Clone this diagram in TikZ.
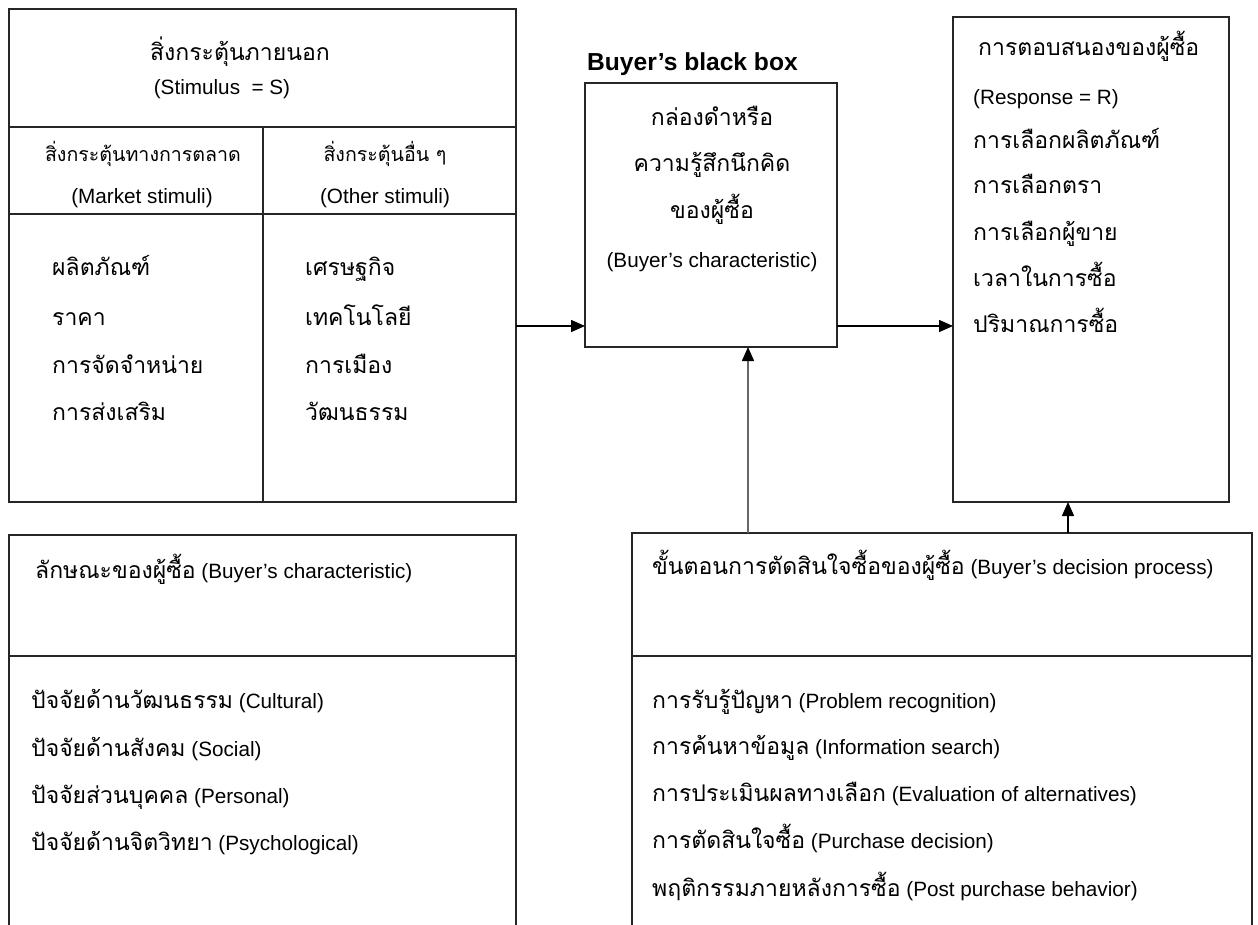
\documentclass[tikz,border=0pt]{standalone}
\usepackage{fontspec}
\setmainfont{Liberation Sans}
\newfontfamily\thaifont[Script=Thai]{Loma}
\usetikzlibrary{arrows.meta}
\newcommand\thsize{\thaifont\fontsize{23}{28}\selectfont}
\newcommand\thsmall{\thaifont\fontsize{19.6}{24}\selectfont}
\newcommand\ensize{\fontsize{20.7}{25}\selectfont}
\newcommand\thtext[1]{{\thsize #1}}
\begin{document}
\begin{tikzpicture}[x=1pt,y=-1pt,
  box/.style={draw=black!85,line width=1.7pt,inner sep=0pt,outer sep=0pt,anchor=north west},
  th/.style={font=\thsize,inner sep=0pt},
  ths/.style={font=\thsmall,inner sep=0pt},
  en/.style={font=\ensize,inner sep=0pt},
  arr/.style={draw=black,line width=1.5pt,-{Triangle[length=14pt,width=12pt]}}]
\useasboundingbox[fill=white] (0,0) rectangle (1258,925);

% ---- stimulus table
\node[box,minimum width=507pt,minimum height=118pt] (sh) at (9,9) {};
\node[box,minimum width=254pt,minimum height=87pt] (mkt) at (9,127) {};
\node[box,minimum width=253pt,minimum height=87pt] (oth) at (263,127) {};
\node[box,minimum width=254pt,minimum height=288pt] (mktl) at (9,214) {};
\node[box,minimum width=253pt,minimum height=288pt] (othl) at (263,214) {};

\node[th,anchor=base] (t1) at (240,61) {สิ่งกระตุ้นภายนอก};
\node[en,anchor=base] (t2) at (222,95) {(Stimulus\ \ = S)};
\node[ths,anchor=base] (t3) at (143,162) {สิ่งกระตุ้นทางการตลาด};
\node[en,anchor=base] (t4) at (142,204) {(Market stimuli)};
\node[ths,anchor=base] (t5) at (385,162) {สิ่งกระตุ้นอื่น ๆ};
\node[en,anchor=base] (t6) at (385,204) {(Other stimuli)};

\node[th,anchor=base west] (m1) at (52,276) {ผลิตภัณฑ์};
\node[th,anchor=base west] (m2) at (52,325) {ราคา};
\node[th,anchor=base west] (m3) at (52,373) {การจัดจำหน่าย};
\node[th,anchor=base west] (m4) at (52,420) {การส่งเสริม};
\node[th,anchor=base west] (o1) at (305,276) {เศรษฐกิจ};
\node[th,anchor=base west] (o2) at (305,325) {เทคโนโลยี};
\node[th,anchor=base west] (o3) at (305,373) {การเมือง};
\node[th,anchor=base west] (o4) at (305,420) {วัฒนธรรม};

% ---- black box
\node[font=\fontsize{24.6}{29}\selectfont\bfseries,inner sep=0pt,anchor=base west] (bbt) at (587,71) {Buyer's black box};
\node[box,minimum width=252pt,minimum height=264pt] (bb) at (585,83) {};
\node[th,anchor=base] (b1) at (712,126) {กล่องดำหรือ};
\node[th,anchor=base] (b2) at (712,172) {ความรู้สึกนึกคิด};
\node[th,anchor=base] (b3) at (712,219) {ของผู้ซื้อ};
\node[en,anchor=base] (b4) at (712,268) {(Buyer's characteristic)};

% ---- response
\node[box,minimum width=276pt,minimum height=485pt] (resp) at (953,17) {};
\node[th,anchor=base west] (r0) at (978,56) {การตอบสนองของผู้ซื้อ};
\node[en,anchor=base west] (r00) at (973,105) {(Response = R)};
\node[th,anchor=base west] (r1) at (973,149) {การเลือกผลิตภัณฑ์};
\node[th,anchor=base west] (r2) at (973,194) {การเลือกตรา};
\node[th,anchor=base west] (r3) at (973,241) {การเลือกผู้ขาย};
\node[th,anchor=base west] (r4) at (973,287) {เวลาในการซื้อ};
\node[th,anchor=base west] (r5) at (973,332) {ปริมาณการซื้อ};

% ---- buyer characteristics
\node[box,minimum width=507pt,minimum height=121pt] (chh) at (9,535) {};
\node[box,minimum width=507pt,minimum height=290pt] (chl) at (9,656) {};
\node[en,anchor=base west] (c0) at (35,578) {\thtext{ลักษณะของผู้ซื้อ} (Buyer's characteristic)};
\node[en,anchor=base west] (c1) at (31,708) {\thtext{ปัจจัยด้านวัฒนธรรม} (Cultural)};
\node[en,anchor=base west] (c2) at (31,756) {\thtext{ปัจจัยด้านสังคม} (Social)};
\node[en,anchor=base west] (c3) at (31,803) {\thtext{ปัจจัยส่วนบุคคล} (Personal)};
\node[en,anchor=base west] (c4) at (31,850) {\thtext{ปัจจัยด้านจิตวิทยา} (Psychological)};

% ---- decision process
\node[box,minimum width=620pt,minimum height=123pt] (dph) at (632,533) {};
\node[box,minimum width=620pt,minimum height=290pt] (dpl) at (632,656) {};
\node[en,anchor=base west] (d0) at (652,574) {\thtext{ขั้นตอนการตัดสินใจซื้อของผู้ซื้อ} (Buyer's decision process)};
\node[en,anchor=base west] (d1) at (652,708) {\thtext{การรับรู้ปัญหา} (Problem recognition)};
\node[en,anchor=base west] (d2) at (652,754) {\thtext{การค้นหาข้อมูล} (Information search)};
\node[en,anchor=base west] (d3) at (652,801) {\thtext{การประเมินผลทางเลือก} (Evaluation of alternatives)};
\node[en,anchor=base west] (d4) at (652,848) {\thtext{การตัดสินใจซื้อ} (Purchase decision)};
\node[en,anchor=base west] (d5) at (652,896) {\thtext{พฤติกรรมภายหลังการซื้อ} (Post purchase behavior)};

% ---- connectors
\coordinate (h1) at (0,326);
\coordinate (v1) at (748,0);
\coordinate (v2) at (1068,0);
\draw[arr] (othl.east |- h1) -- (bb.west |- h1);
\draw[arr] (bb.east |- h1) -- (resp.west |- h1);
\draw[arr,draw=black!60,-{Triangle[length=14pt,width=12pt,color=black]}] (dph.north -| v1) -- (bb.south -| v1);
\draw[arr] (dph.north -| v2) -- (resp.south -| v2);
\end{tikzpicture}
\end{document}
